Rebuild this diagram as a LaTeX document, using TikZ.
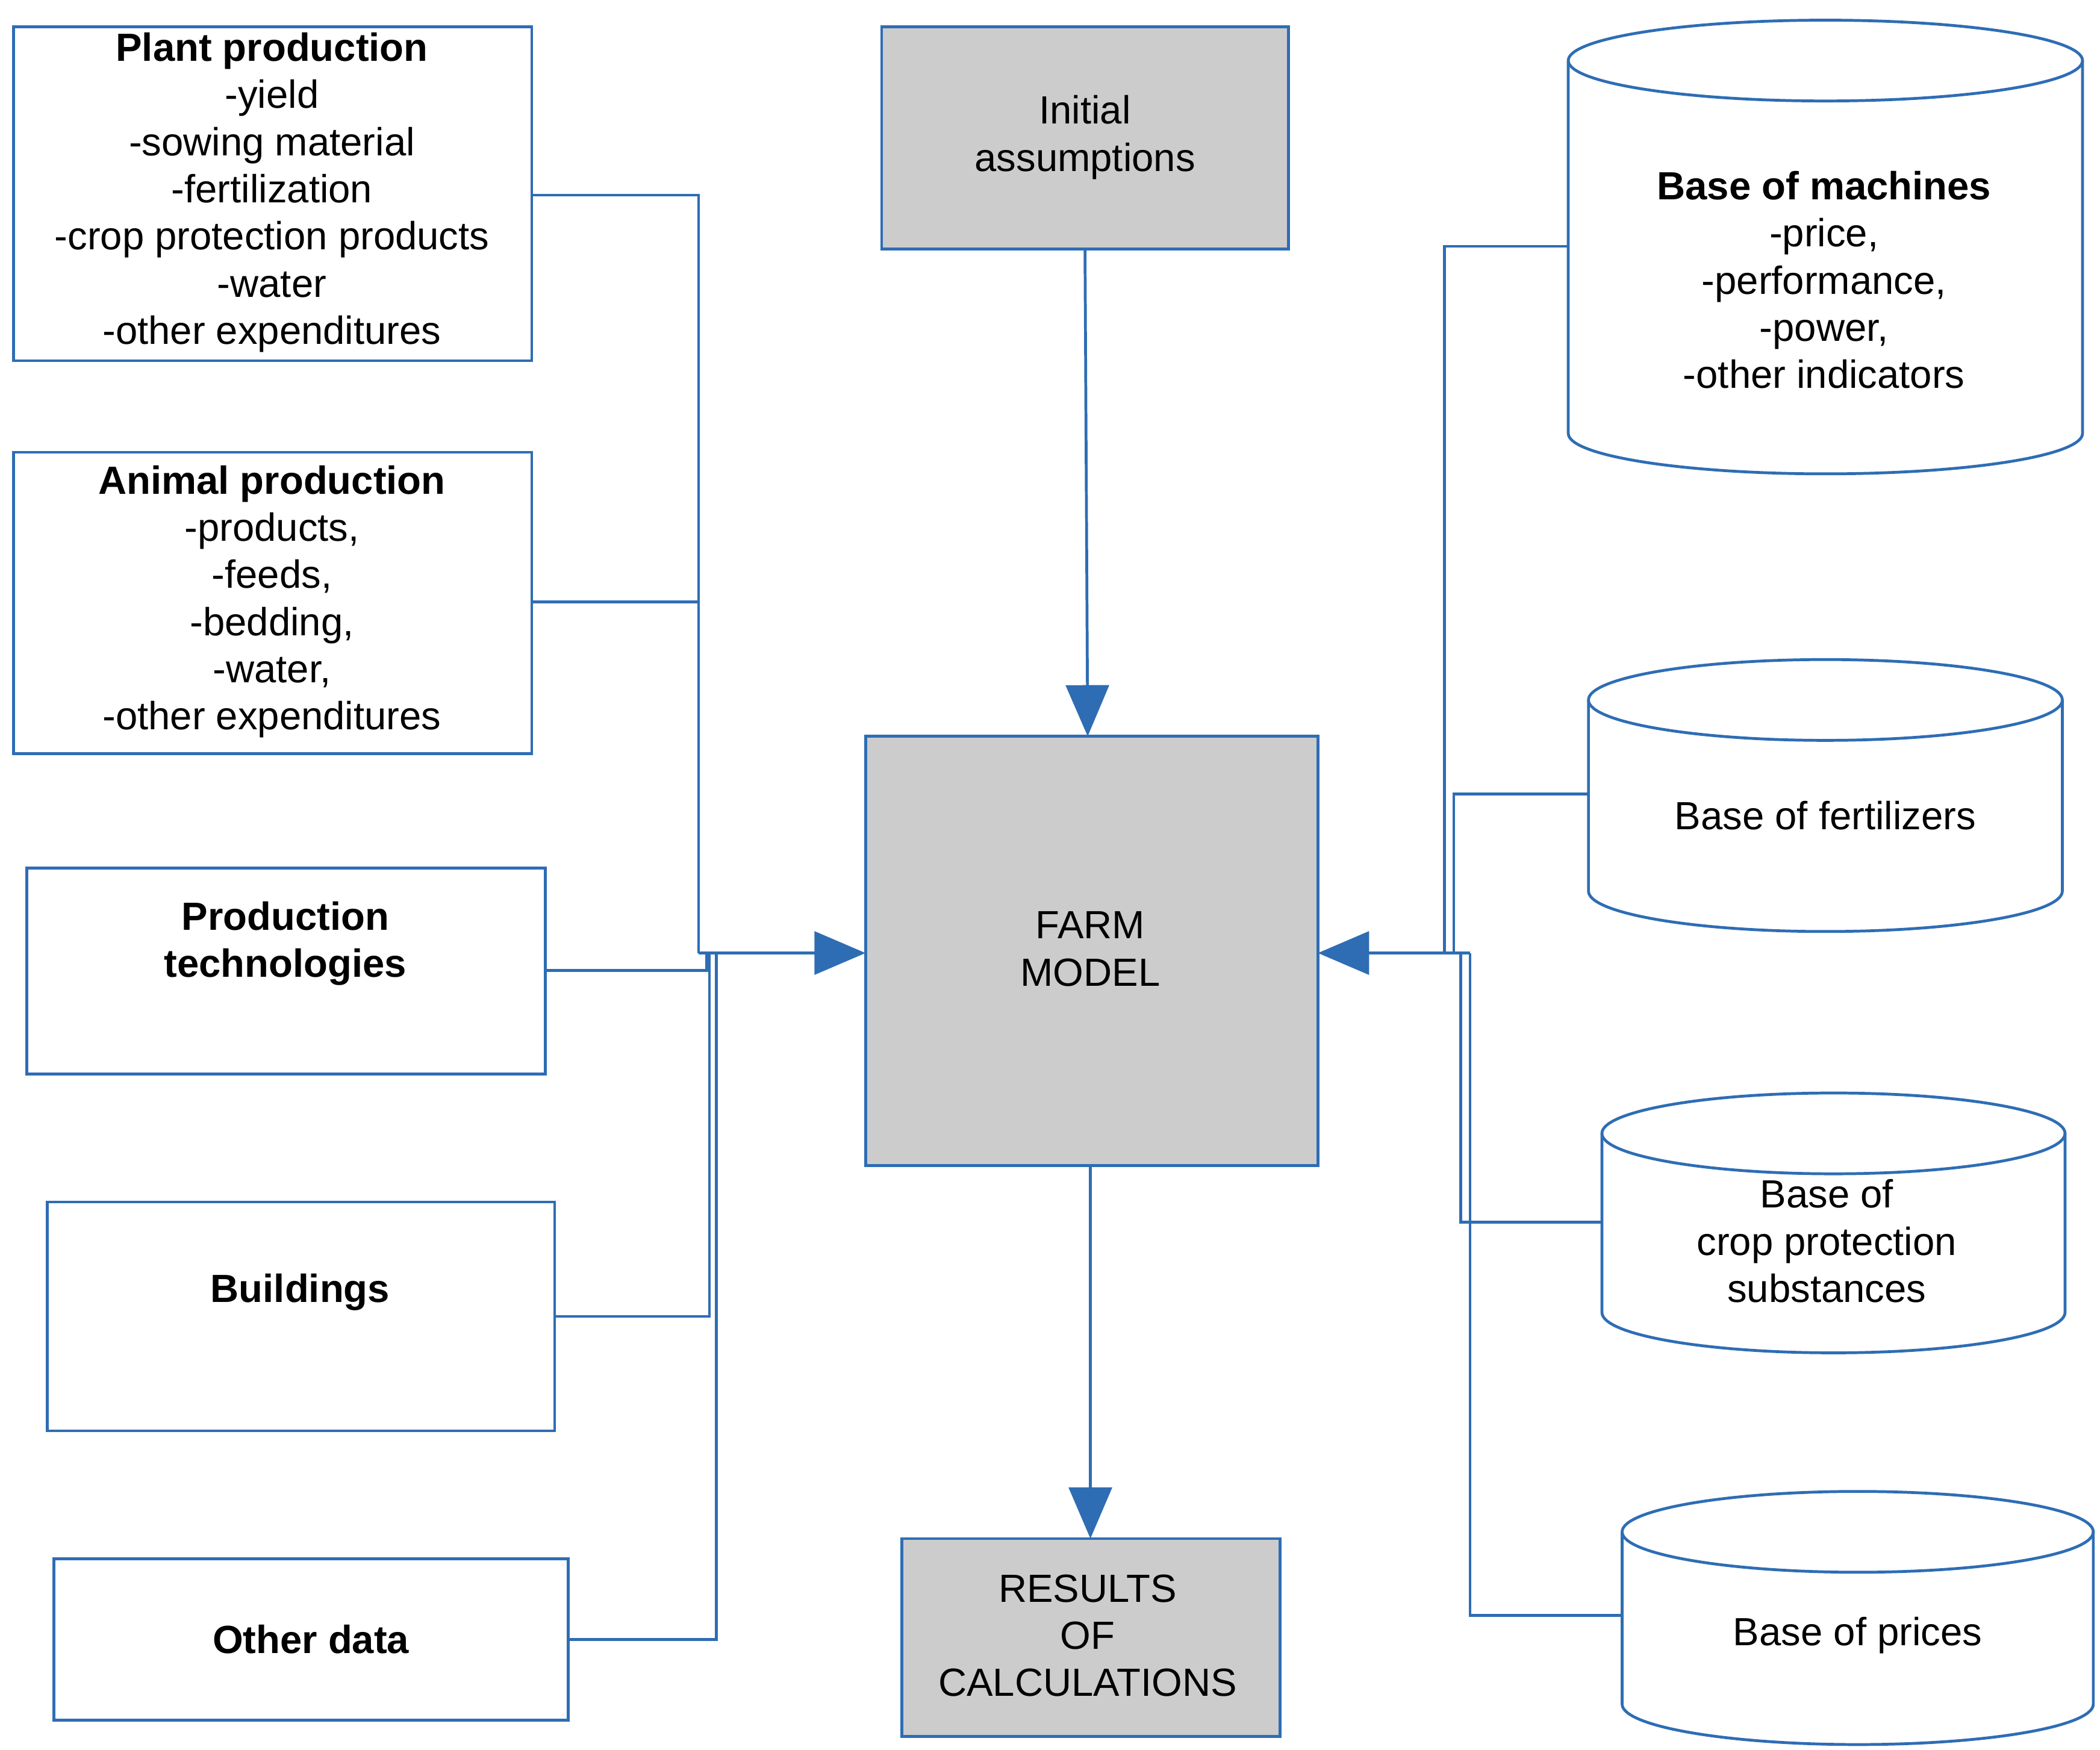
\documentclass[tikz,border=0pt]{standalone}
\usepackage{fontspec}
\setmainfont{Liberation Sans}
\usetikzlibrary{arrows.meta}
\definecolor{ln}{HTML}{2E6DB4}
\begin{document}
\begin{tikzpicture}[x=0.01cm,y=-0.01cm,
  every node/.style={font=\fontsize{8.3}{9.96}\selectfont,align=center,inner sep=0pt},
  box/.style={draw=ln,line width=0.6pt},
  gbox/.style={draw=ln,line width=0.6pt,fill=black!20},
  cyl/.style={draw=ln,line width=0.6pt},
  con/.style={ln,line width=0.6pt},
  arr/.style={con,-{Triangle[length=0.38cm,width=0.32cm]}}]
\useasboundingbox (0,0) rectangle (1560,1300);
\newcommand\mycyl[5]{%
 \pgfmathsetmacro\cx{(#2+#3)/2}\pgfmathsetmacro\rx{(#3-#2)/2*0.01}%
 \draw[cyl] (\cx,#4+30) ellipse [x radius=\rx cm, y radius=0.3cm];
 \draw[cyl] (#2,#4+30) -- (#2,#5-30) arc[start angle=180,end angle=360,x radius=\rx cm,y radius=0.3cm] -- (#3,#4+30);
 \coordinate (#1) at (#2,{(#4+#5)/2});}
% left boxes
\draw[box] (10,20) rectangle (395,268); \coordinate (pp) at (395,145);
\node (ppt) at (202,143) {\textbf{Plant production}\\-yield\\-sowing material\\-fertilization\\-crop protection products\\-water\\-other expenditures};
\draw[box] (10,336) rectangle (395,560); \coordinate (ap) at (395,447);
\node (apt) at (202,447) {\textbf{Animal production}\\-products,\\-feeds,\\-bedding,\\-water,\\-other expenditures};
\draw[box] (20,645) rectangle (405,798); \coordinate (pt) at (405,721);
\node (ptt) at (212,701) {\textbf{Production}\\\textbf{technologies}};
\draw[box] (35,893) rectangle (412,1063); \coordinate (bu) at (412,978);
\node (but) at (223,960) {\textbf{Buildings}};
\draw[box] (40,1158) rectangle (422,1278); \coordinate (od) at (422,1218);
\node (odt) at (231,1218) {\textbf{Other data}};
% center
\draw[gbox] (655,20) rectangle (957,185); \coordinate (ia) at (806,185);
\node (iat) at (806,102) {Initial\\assumptions};
\draw[gbox] (643,547) rectangle (979,866);
\coordinate (fmT) at (808,547); \coordinate (fmL) at (643,708); \coordinate (fmR) at (979,708); \coordinate (fmB) at (810,866);
\node (fmt) at (810,705) {FARM\\MODEL};
\draw[gbox] (670,1143) rectangle (951,1290); \coordinate (rsT) at (810,1143);
\node (rst) at (808,1215) {RESULTS\\OF\\CALCULATIONS};
% cylinders
\mycyl{mc}{1165}{1547}{15}{352}
\node (mct) at (1355,208) {\textbf{Base of machines}\\-price,\\-performance,\\-power,\\-other indicators};
\mycyl{fe}{1180}{1532}{490}{692}
\node (fet) at (1356,606) {Base of fertilizers};
\mycyl{cp}{1190}{1534}{812}{1005}
\node (cpt) at (1357,922) {Base of\\crop protection\\substances};
\mycyl{pr}{1205}{1555}{1108}{1296}
\node (prt) at (1380,1215) {Base of prices};
\coordinate (mc) at (1165,183); \coordinate (fe) at (1180,590); \coordinate (cp) at (1190,908); \coordinate (pr) at (1205,1200);
% connectors
\draw[con] (pp) -| (519,708); \draw[con] (ap) -- (519,447);
\draw[con] (pt) -| (525,708); \draw[con] (bu) -| (527,708); \draw[con] (od) -| (532,708);
\draw[arr] (519,708) -- (fmL);
\draw[con] (mc) -| (1073,708); \draw[con] (fe) -| (1080,708);
\draw[con] (cp) -| (1085,708); \draw[con] (pr) -| (1092,708);
\draw[arr] (1092,708) -- (fmR);
\draw[arr] (ia) -- (fmT);
\draw[arr] (fmB) -- (rsT);
\end{tikzpicture}
\end{document}
